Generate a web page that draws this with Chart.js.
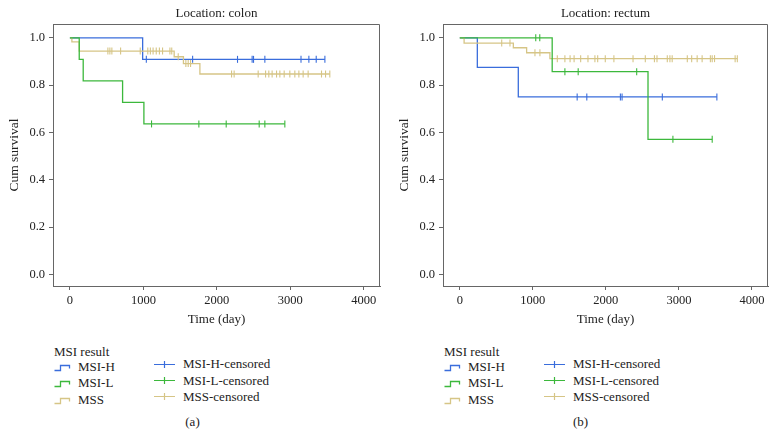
<!DOCTYPE html>
<html><head><meta charset="utf-8">
<script src="https://cdn.jsdelivr.net/npm/chart.js@4/dist/chart.umd.min.js"></script>
<style>
html,body{margin:0;padding:0;background:#fff;}
body{width:777px;height:448px;position:relative;overflow:hidden;font-family:"Liberation Serif","DejaVu Serif",serif;color:#222;}
canvas{position:absolute;top:0;}
.t{position:absolute;font-size:13px;line-height:14px;white-space:nowrap;color:#222;}
svg{position:absolute;overflow:visible;}
</style></head><body>
<canvas id="c1" width="390" height="330" style="left:0;width:390px;height:330px"></canvas>
<canvas id="c2" width="387" height="330" style="left:390px;width:387px;height:330px"></canvas>
<div id="leg"></div>
<script>
// ---- tick labels / categories ----
const xTicks = [0, 1000, 2000, 3000, 4000];
const yTicks = [0, 0.2, 0.4, 0.6, 0.8, 1.0];
const seriesNames = ['MSI-H', 'MSI-L', 'MSS'];
const censorNames = ['MSI-H-censored', 'MSI-L-censored', 'MSS-censored'];
const panelTitles = ['Location: colon', 'Location: rectum'];
const panelCaptions = ['(a)', '(b)'];

// ---- colon ----
const colonHTimes = [0, 990];
const colonHSurv = [1.0, 0.909];
const colonHCens = [1040, 1670, 2281, 2480, 2499, 2653, 3145, 3252, 3352, 3470];

const colonLTimes = [0, 127, 181, 717, 1007];
const colonLSurv = [1.0, 0.909, 0.818, 0.727, 0.636];
const colonLCens = [1111, 1755, 2127, 2576, 2653, 2925];

const colonSTimes = [0, 27, 127, 1419, 1545, 1769];
const colonSSurv = [1.0, 0.983, 0.944, 0.920, 0.891, 0.847];
const colonSCens = [517, 544, 571, 690, 957, 1060, 1095, 1132, 1175, 1218, 1261, 1361, 1386, 1474, 1578, 1610, 1642,
  2200, 2235, 2562, 2663, 2707, 2752, 2812, 2857, 2916, 2993, 3061, 3116, 3174, 3242, 3424, 3479, 3537];

// ---- rectum ----
const rectumHTimes = [0, 240, 801];
const rectumHSurv = [1.0, 0.875, 0.750];
const rectumHCens = [1607, 1739, 2199, 2222, 2773, 3520];

const rectumLTimes = [0, 1265, 2577];
const rectumLSurv = [1.0, 0.857, 0.571];
const rectumLCens = [1040, 1095, 1439, 1621, 2422, 2918, 3456];

const rectumSTimes = [0, 59, 733, 915, 1234];
const rectumSSurv = [1.0, 0.978, 0.958, 0.937, 0.912];
const rectumSCens = [574, 687, 1029, 1097, 1335, 1439, 1510, 1565, 1655, 1755, 1850, 1888, 1992, 2110, 2372, 2540,
  2665, 2700, 2841, 2877, 2908, 3115, 3175, 3250, 3318, 3431, 3456, 3488, 3770, 3800];

const colors = ['#3a6ddc', '#3cb83c', '#d6c586'];
const FONT = 'Liberation Serif, DejaVu Serif, serif';
Chart.defaults.font.family = FONT;
Chart.defaults.font.size = 13;
Chart.defaults.color = '#222';

function survAt(times, surv, t) {
  let s = surv[0];
  for (let i = 0; i < times.length; i++) if (times[i] <= t) s = surv[i];
  return s;
}
function curve(times, surv, cens) {
  const pts = times.map((t, i) => ({x: t, y: surv[i]}));
  const end = Math.max(times[times.length - 1], ...cens);
  pts.push({x: end, y: surv[surv.length - 1]});
  return pts;
}

const boxPlugin = {
  id: 'box',
  afterDraw(chart) {
    const {ctx, chartArea: a} = chart;
    ctx.save();
    ctx.strokeStyle = '#666';
    ctx.lineWidth = 1;
    ctx.beginPath();
    const t = Math.round(a.top) + 0.5, r = Math.round(a.right) - 0.5;
    ctx.moveTo(Math.round(a.left), t);
    ctx.lineTo(r, t);
    ctx.lineTo(r, Math.round(a.bottom));
    ctx.stroke();
    ctx.restore();
  }
};

function makeChart(id, title, groups, padRight) {
  const ds = [];
  const order = [1, 2, 0];
  order.forEach(i => {
    const g = groups[i];
    ds.push({
      type: 'scatter', label: censorNames[i],
      data: g.cens.map(t => ({x: t, y: survAt(g.times, g.surv, t)})),
      showLine: false, pointStyle: 'line', rotation: 90, pointRadius: 3.5, pointHoverRadius: 3.5,
      borderColor: colors[i], backgroundColor: colors[i], pointBorderWidth: 1.1, borderWidth: 1.1
    });
  });
  order.forEach(i => {
    const g = groups[i];
    ds.push({
      type: 'line', label: seriesNames[i],
      data: curve(g.times, g.surv, g.cens),
      stepped: 'before', borderColor: colors[i], borderWidth: 1.3, pointRadius: 0, fill: false
    });
  });
  return new Chart(document.getElementById(id), {
    type: 'scatter',
    data: {datasets: ds},
    options: {
      responsive: false, animation: false, events: [],
      layout: {padding: {left: 0, right: padRight, top: 0, bottom: 3}},
      plugins: {
        legend: {display: false}, tooltip: {enabled: false},
        title: {display: true, text: title, fullSize: false, color: '#222',
          font: {family: FONT, size: 13, weight: 'normal'}, padding: {top: 5.5, bottom: 3}}
      },
      scales: {
        x: {
          type: 'linear', min: -230, max: 4220,
          afterBuildTicks: s => { s.ticks = xTicks.map(v => ({value: v})); },
          afterFit: s => { s.height = 41; },
          grid: {display: true, drawOnChartArea: false, drawTicks: true, tickLength: 4, color: '#666'},
          border: {display: true, color: '#666'},
          ticks: {color: '#222', font: {family: FONT, size: 12.5}, padding: 3, maxRotation: 0, autoSkip: false,
            callback: v => String(v)},
          title: {display: true, text: 'Time (day)', color: '#222', font: {family: FONT, size: 13}, padding: {top: 0, bottom: 0}}
        },
        y: {
          type: 'linear', min: -0.049, max: 1.058,
          afterBuildTicks: s => { s.ticks = yTicks.map(v => ({value: v})); },
          afterFit: s => { s.width = 53; },
          grid: {display: true, drawOnChartArea: false, drawTicks: true, tickLength: 4, color: '#666'},
          border: {display: true, color: '#666'},
          ticks: {color: '#222', font: {family: FONT, size: 12.5}, padding: 4, callback: v => Number(v).toFixed(1)},
          title: {display: true, text: 'Cum survival', color: '#222', font: {family: FONT, size: 13.5}, padding: {top: 6, bottom: 0}}
        }
      }
    },
    plugins: [boxPlugin]
  });
}

makeChart('c1', panelTitles[0], [
  {times: colonHTimes, surv: colonHSurv, cens: colonHCens},
  {times: colonLTimes, surv: colonLSurv, cens: colonLCens},
  {times: colonSTimes, surv: colonSSurv, cens: colonSCens}
], 10);
makeChart('c2', panelTitles[1], [
  {times: rectumHTimes, surv: rectumHSurv, cens: rectumHCens},
  {times: rectumLTimes, surv: rectumLSurv, cens: rectumLCens},
  {times: rectumSTimes, surv: rectumSSurv, cens: rectumSCens}
], 9);

// ---- legends (HTML) ----
const leg = document.getElementById('leg');
function addText(txt, x, cy, center) {
  const d = document.createElement('div');
  d.className = 't';
  d.textContent = txt;
  d.style.top = (cy - 7) + 'px';
  if (center) { d.style.left = (x - 50) + 'px'; d.style.width = '100px'; d.style.textAlign = 'center'; }
  else d.style.left = x + 'px';
  leg.appendChild(d);
}
function addSvg(html, x, y, w, h) {
  const NS = 'http://www.w3.org/2000/svg';
  const s = document.createElementNS(NS, 'svg');
  s.setAttribute('width', w); s.setAttribute('height', h);
  s.style.left = x + 'px'; s.style.top = y + 'px';
  s.innerHTML = html;
  leg.appendChild(s);
}
const col1Y = [366.7, 382.7, 399.5];
const col2Y = [364, 380.7, 396.7];
[0, 390].forEach((x0, p) => {
  addText('MSI result', x0 + 54, 351.7);
  for (let i = 0; i < 3; i++) {
    addSvg('<path d="M0.5 7.5 H6.5 V2.5 H15.5 V5.5" stroke="' + colors[i] + '" stroke-width="1.3" fill="none"/>',
      x0 + 54, col1Y[i] - 3.5, 17, 10);
    addText(seriesNames[i], x0 + 78, col1Y[i]);
    addSvg('<path d="M0 4.5 H21 M10.5 1 V8" stroke="' + colors[i] + '" stroke-width="1.2" fill="none"/>',
      x0 + 154, col2Y[i] - 4.5, 21, 9);
    addText(censorNames[i], x0 + 183, col2Y[i]);
  }
  addText(panelCaptions[p], p === 0 ? 192.5 : 580.5, 421.7, true);
});
</script>
</body></html>
